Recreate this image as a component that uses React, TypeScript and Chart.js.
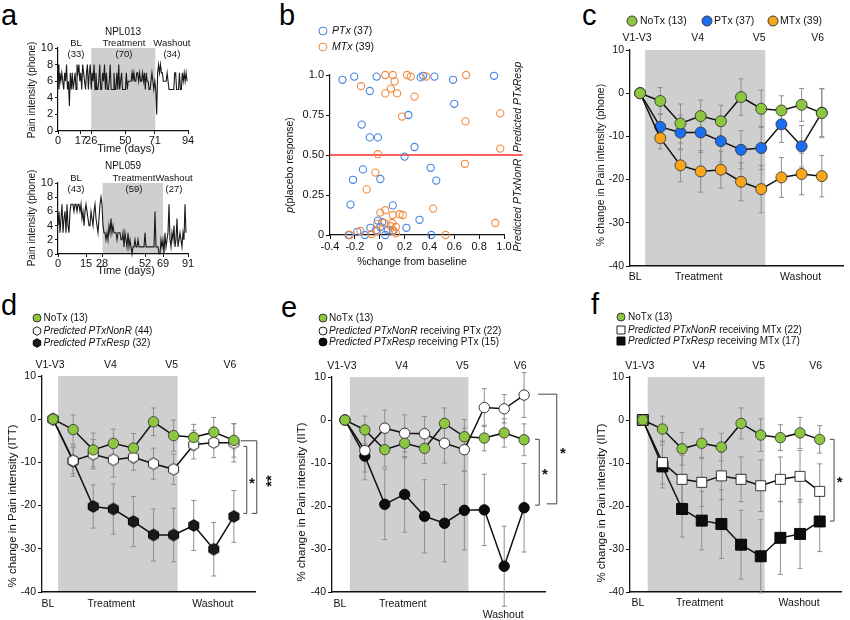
import React, { useEffect, useRef } from 'react';
import { Chart, registerables } from 'chart.js';

Chart.register(...registerables);

const FONT = '"Liberation Sans", Arial, Helvetica, sans-serif';
Chart.defaults.font.family = FONT;
Chart.defaults.color = '#111111';

const INK = '#111111';
const SHADE = '#cfcfcf';
const ERRC = '#8e8e8e';
const GREEN = '#8dc63f';
const BLUE = '#1a6ef0';
const ORANGE = '#f9a61b';
const B_BLUE = '#4482e4';
const B_ORANGE = '#f28a3d';
const RED = '#ff2a2a';

// ---------------- Panel a ----------------
const npl013Values = [
  8, 5, 7, 6, 7, 6, 5, 7, 6, 8, 5, 6, 3, 7, 5, 7, 5, 6, 7, 5, 8, 7, 8, 6, 7, 5, 8, 7, 6, 5, 7, 8, 5, 7,
  8, 5, 7, 6, 8, 5, 7, 5, 5, 6, 8, 5, 5, 7, 6, 8, 5, 7, 5, 5, 6, 8, 5, 5, 5, 7, 5, 5, 7, 5,
  8, 5, 6, 7, 5, 5, 5, 5, 7, 5, 6, 6, 6, 6, 7, 6, 7, 6, 6, 7, 7, 6, 7, 6, 6, 7, 6, 7, 5, 7,
  6, 6, 5, 5, 5, 7, 6, 5, 6, 5,
  2, 7, 8, 7, 8, 7, 7, 6, 6, 6, 6, 7, 6, 5, 5, 5, 5, 5, 5, 7, 7, 5, 5, 5, 7, 5, 5, 7, 6, 7, 6, 7, 6,
];
const npl013TickPos = [0, 24, 35, 71, 102, 137];
const npl013TickLabels = ['0', '17', '26', '50', '71', '94'];
const npl013Treatment = [35, 102.5];
const npl013PhaseNames = ['BL', 'Treatment', 'Washout'];
const npl013PhaseCounts = ['(33)', '(70)', '(34)'];
const npl013PhasePos = [19, 69.5, 120];

const npl059Values = [
  4, 6, 3, 5, 7, 3, 5, 6, 3, 7, 4, 3, 6, 7, 7, 7, 6, 7, 7, 6, 7, 7, 6, 7, 5, 6, 4, 6, 7, 6, 5, 4, 4, 6, 5, 4, 6, 7, 5, 4, 3, 5, 7,
  8, 7, 4, 3, 3, 2, 3, 2, 4, 3, 5, 3, 4, 3, 3, 3, 2, 3, 3, 3, 2, 2, 3, 1, 3, 2, 1, 3, 1, 2,
  1, 0, 1, 1, 2, 1, 1, 2, 1, 1, 1, 1, 1, 1, 3, 1, 1, 1, 1, 1, 1, 1, 1, 1, 6, 1, 1, 1, 0,
  0, 2, 1, 2, 0, 3, 1, 2, 3, 7, 2, 1, 3, 2, 4, 1, 2, 5, 1, 2, 3, 2, 1, 3, 2, 7, 3,
];
const npl059TickPos = [0, 28, 44, 87, 105, 130];
const npl059TickLabels = ['0', '15', '28', '52', '69', '91'];
const npl059Treatment = [44.5, 105];
const npl059PhaseNames = ['BL', 'Treatment', 'Washout'];
const npl059PhaseCounts = ['(43)', '(59)', '(27)'];
const npl059PhasePos = [18, 76, 116];

const painTicks = [0, 2, 4, 6, 8, 10];

// ---------------- Panel b ----------------
const ptxX = [-0.3, -0.205, -0.025, 0.33, 0.35, 0.44, 0.59, 0.92, -0.08, 0.6, -0.145, 0.23, -0.08, -0.015, 0.28, 0.2, -0.135, 0.41, -0.215, 0.005, 0.455, -0.235, 0.105, 0.32, 0.215, -0.075, -0.015, 0.02, -0.18, -0.12, -0.25, 0.045, 0.065, -0.03, 0.415, 0.005, 0.105];
const ptxY = [0.97, 0.99, 0.99, 0.985, 0.995, 0.99, 0.97, 0.995, 0.9, 0.82, 0.69, 0.75, 0.61, 0.61, 0.55, 0.49, 0.41, 0.42, 0.345, 0.35, 0.34, 0.19, 0.185, 0.095, 0.045, 0.045, 0.09, 0.08, 0.02, 0.0, 0.0, 0.0, 0.03, 0.03, 0.0, 0.05, 0.03];
const mtxX = [0.045, 0.105, 0.22, 0.25, 0.375, 0.695, 0.12, -0.15, 0.09, 0.045, 0.14, 0.28, 0.18, 0.69, 0.97, -0.015, 0.97, 0.685, -0.035, -0.105, 0.43, 0.005, 0.045, 0.105, 0.16, 0.185, -0.02, 0.035, 0.09, 0.13, 0.11, 0.13, -0.02, -0.065, -0.155, -0.24, 0.53, 0.93, 0.1];
const mtxY = [1.0, 1.0, 1.0, 0.99, 0.99, 1.0, 0.96, 0.93, 0.915, 0.885, 0.885, 0.865, 0.74, 0.71, 0.76, 0.505, 0.54, 0.445, 0.39, 0.285, 0.165, 0.14, 0.155, 0.125, 0.13, 0.125, 0.07, 0.075, 0.055, 0.05, 0.025, 0.01, 0.025, 0.005, 0.025, 0.0, 0.0, 0.075, 0.075];
const thresholdX = [-0.4, 1.15];
const thresholdY = 0.5;
const bXTicks = [-0.4, -0.2, 0, 0.2, 0.4, 0.6, 0.8, 1.0];
const bXLabels = ['-0.4', '-0.2', '0', '0.2', '0.4', '0.6', '0.8', '1.0'];
const bYTicks = [0, 0.25, 0.5, 0.75, 1.0];
const bYLabels = ['0', '0.25', '0.50', '0.75', '1.0'];

// ---------------- Panels c-f (time courses) ----------------
const visitLabels = ['V1-V3', 'V4', 'V5', 'V6'];
const visitPos = [-0.15, 2.85, 5.9, 8.8];
const phaseLabels = ['BL', 'Treatment', 'Washout'];
const phasePos = [-0.25, 2.9, 7.95];
const treatmentWindow = [0.25, 6.2];
const pctTicks = [-40, -30, -20, -10, 0, 10];
const pctLabels = ['-40', '-30', '-20', '-10', '0', '10'];

const cNoTx = [0, -1.8, -7.0, -5.3, -6.5, -0.9, -3.6, -4.0, -2.7, -4.6];
const cNoTxErr = [0, 3.1, 4.5, 3.7, 3.7, 4.2, 4.3, 3.4, 3.8, 5.7];
const cPTx = [0, -7.8, -9.1, -9.1, -11.1, -13.1, -12.7, -7.2, -12.3, -4.5];
const cPTxErr = [0, 3.0, 4.0, 4.6, 4.8, 4.4, 5.0, 4.2, 4.8, 5.5];
const cMTx = [0, -10.4, -16.7, -18.1, -17.7, -20.5, -22.2, -19.5, -18.7, -19.2];
const cMTxErr = [0, 2.5, 3.8, 4.8, 4.3, 4.4, 5.5, 4.6, 4.8, 4.8];

const dNoTx = [0, -2.4, -7.1, -5.6, -6.7, -0.6, -3.8, -4.2, -3.0, -4.9];
const dNoTxErr = [0, 3.4, 3.9, 3.3, 3.4, 3.2, 3.6, 3.0, 3.4, 3.9];
const dNonR = [0, -9.6, -8.1, -9.4, -8.8, -10.3, -11.6, -5.9, -5.4, -5.5];
const dNonRErr = [0, 3.0, 3.4, 4.0, 3.0, 3.6, 3.5, 3.3, 3.5, 4.4];
const dResp = [0, -9.7, -20.2, -20.8, -23.7, -26.8, -26.8, -24.6, -30.1, -22.5];
const dRespErr = [0, 3.5, 5.0, 5.8, 5.8, 6.0, 6.2, 5.8, 6.2, 6.0];

const eNoTx = [0, -2.3, -6.9, -5.4, -6.6, -0.8, -3.9, -4.2, -3.0, -4.6];
const eNoTxErr = [0, 3.2, 4.0, 3.4, 3.5, 3.6, 4.0, 3.0, 3.3, 3.7];
const eNonR = [0, -7.1, -1.9, -3.1, -3.2, -5.4, -6.9, 2.9, 2.6, 5.8];
const eNonRErr = [0, 5.0, 4.2, 4.3, 4.0, 4.6, 5.0, 4.4, 3.3, 5.2];
const eResp = [0, -8.4, -19.6, -17.3, -22.4, -24.0, -21.0, -20.9, -34.0, -20.4];
const eRespErr = [0, 5.5, 8.2, 8.8, 8.5, 9.0, 9.2, 8.3, 9.3, 10.3];

const fNoTx = [0, -2.1, -6.7, -5.4, -6.3, -0.8, -3.5, -4.1, -3.0, -4.5];
const fNoTxErr = [0, 3.0, 3.8, 3.3, 3.2, 3.6, 3.8, 3.0, 3.6, 3.2];
const fNonR = [0, -9.9, -13.8, -14.5, -13.0, -13.8, -15.3, -13.8, -13.1, -16.6];
const fNonRErr = [0, 5.0, 5.5, 5.6, 5.5, 5.2, 6.0, 5.2, 6.0, 6.4];
const fResp = [0, -10.8, -20.7, -23.4, -24.2, -29.0, -31.7, -27.4, -26.5, -23.6];
const fRespErr = [0, 5.0, 6.5, 6.8, 8.0, 8.0, 8.5, 8.5, 8.0, 7.0];

// ---------------- helpers ----------------
type Part = { t: string; i?: boolean; b?: boolean };
const P = (t: string): Part[] => [{ t }];

function fontStr(size: number, italic?: boolean, bold?: boolean) {
  return `${italic ? 'italic ' : ''}${bold ? 'bold ' : ''}${size}px ${FONT}`;
}

function drawParts(ctx: CanvasRenderingContext2D, parts: Part[], x: number, y: number, size: number, align: string) {
  let total = 0;
  const widths = parts.map((p) => {
    ctx.font = fontStr(size, p.i, p.b);
    const w = ctx.measureText(p.t).width;
    total += w;
    return w;
  });
  let cx = align === 'left' ? x : align === 'right' ? x - total : x - total / 2;
  ctx.textAlign = 'left';
  parts.forEach((p, k) => {
    ctx.font = fontStr(size, p.i, p.b);
    ctx.fillText(p.t, cx, y);
    cx += widths[k];
  });
}

function drawMarker(ctx: CanvasRenderingContext2D, kind: string, x: number, y: number, r: number, fill: string, stroke: string, lw: number) {
  ctx.beginPath();
  if (kind === 'circle') ctx.arc(x, y, r, 0, Math.PI * 2);
  else if (kind === 'square') ctx.rect(x - r, y - r, 2 * r, 2 * r);
  else {
    for (let k = 0; k < 6; k++) {
      const a = -Math.PI / 2 + (k * Math.PI) / 3;
      const px = x + r * Math.cos(a);
      const py = y + r * Math.sin(a);
      if (k === 0) ctx.moveTo(px, py);
      else ctx.lineTo(px, py);
    }
    ctx.closePath();
  }
  ctx.fillStyle = fill;
  ctx.fill();
  ctx.lineWidth = lw;
  ctx.strokeStyle = stroke;
  ctx.stroke();
}

function hexImage(r: number, fill: string, stroke: string) {
  const c = document.createElement('canvas');
  const s = Math.ceil(r * 2 + 3);
  c.width = s;
  c.height = s;
  const ctx = c.getContext('2d') as CanvasRenderingContext2D;
  drawMarker(ctx, 'hex', s / 2, s / 2, r, fill, stroke, 1);
  return c;
}

type Box = { left: number; top: number; width: number; height: number };
type Area = { left: number; top: number; right: number; bottom: number };

function layoutFor(box: Box, area: Area) {
  return {
    padding: { left: 0, top: area.top - box.top, right: box.left + box.width - area.right, bottom: 0 },
    yWidth: area.left - box.left,
    xHeight: box.top + box.height - area.bottom,
  };
}

function axis(o: any) {
  return {
    type: 'linear',
    bounds: 'data',
    min: o.min,
    max: o.max,
    afterFit: o.fit,
    afterBuildTicks: o.ticks
      ? (s: any) => {
          s.ticks = o.ticks.map((v: number) => ({ value: v }));
        }
      : undefined,
    ticks: {
      display: !!o.show,
      autoSkip: false,
      maxRotation: 0,
      minRotation: 0,
      padding: o.pad ?? 2,
      color: INK,
      font: { size: o.fontSize ?? 10.5, family: FONT },
      callback: (v: any, i: number) => (o.labels ? o.labels[i] : v),
    },
    grid: { display: !!o.show, drawOnChartArea: false, drawTicks: !!o.show, tickLength: o.tickLen ?? 4, color: INK, lineWidth: 1 },
    border: { display: true, color: INK, width: o.borderW ?? 1.2 },
  };
}

type Txt = { parts: Part[]; x?: number; xv?: number; y?: number; yv?: number; size?: number; align?: string; rot?: boolean; star?: boolean; bold?: boolean };
type Leg = { kind: string; fill: string; stroke: string; r: number; x: number; y: number; tx: number; parts: Part[]; size?: number };
type Brk = { yTop: number; yBottom: number; xTop: number; xBottom: number; xVert: number };
type Decor = { ox: number; oy: number; shades?: number[][]; errors?: { values: number[]; errs: number[] }[]; texts?: Txt[]; legend?: Leg[]; brackets?: Brk[] };

function decorPlugin(d: Decor) {
  const gx = (chart: any, t: any) => (t.xv !== undefined ? chart.scales.x.getPixelForValue(t.xv) : t.x - d.ox);
  const gy = (chart: any, t: any) => (t.yv !== undefined ? chart.scales.y.getPixelForValue(t.yv) : t.y - d.oy);
  return {
    id: 'decor',
    beforeDraw(chart: any) {
      const { ctx, chartArea: a, scales } = chart;
      ctx.save();
      (d.shades || []).forEach((s) => {
        const x0 = scales.x.getPixelForValue(s[0]);
        const x1 = scales.x.getPixelForValue(s[1]);
        ctx.fillStyle = SHADE;
        ctx.fillRect(x0, a.top, x1 - x0, a.bottom - a.top);
      });
      ctx.restore();
    },
    beforeDatasetsDraw(chart: any) {
      const { ctx, scales } = chart;
      ctx.save();
      ctx.strokeStyle = ERRC;
      ctx.lineWidth = 1;
      (d.errors || []).forEach((eb) => {
        eb.values.forEach((v, i) => {
          const e = eb.errs[i];
          if (!e) return;
          const x = scales.x.getPixelForValue(i);
          const y1 = scales.y.getPixelForValue(v + e);
          const y2 = scales.y.getPixelForValue(v - e);
          ctx.beginPath();
          ctx.moveTo(x, y1);
          ctx.lineTo(x, y2);
          ctx.moveTo(x - 2.5, y1);
          ctx.lineTo(x + 2.5, y1);
          ctx.moveTo(x - 2.5, y2);
          ctx.lineTo(x + 2.5, y2);
          ctx.stroke();
        });
      });
      ctx.restore();
    },
    afterDraw(chart: any) {
      const { ctx, scales } = chart;
      ctx.save();
      ctx.strokeStyle = '#444444';
      ctx.lineWidth = 1;
      (d.brackets || []).forEach((b) => {
        const yT = scales.y.getPixelForValue(b.yTop);
        const yB = scales.y.getPixelForValue(b.yBottom);
        const xT = scales.x.getPixelForValue(b.xTop);
        const xB = scales.x.getPixelForValue(b.xBottom);
        const xV = scales.x.getPixelForValue(b.xVert);
        ctx.beginPath();
        ctx.moveTo(xT, yT);
        ctx.lineTo(xV, yT);
        ctx.lineTo(xV, yB);
        ctx.lineTo(xB, yB);
        ctx.stroke();
      });
      ctx.fillStyle = INK;
      (d.texts || []).forEach((t) => {
        const x = gx(chart, t);
        const y = gy(chart, t);
        const size = t.size ?? 10.5;
        ctx.save();
        ctx.translate(x, y);
        if (t.rot) ctx.rotate(-Math.PI / 2);
        if (t.star) {
          ctx.textBaseline = 'alphabetic';
          drawParts(ctx, t.parts, 0, size * 0.6, size, 'center');
        } else {
          ctx.textBaseline = 'middle';
          drawParts(ctx, t.parts, 0, 0, size, t.align ?? 'center');
        }
        ctx.restore();
      });
      (d.legend || []).forEach((l) => {
        drawMarker(ctx, l.kind, l.x - d.ox, l.y - d.oy, l.r, l.fill, l.stroke, 1);
        ctx.fillStyle = INK;
        ctx.textBaseline = 'middle';
        drawParts(ctx, l.parts, l.tx - d.ox, l.y - d.oy, l.size ?? 10, 'left');
      });
      ctx.restore();
    },
  };
}

function baseOptions(L: any, scales: any) {
  return {
    responsive: false,
    maintainAspectRatio: false,
    animation: false,
    devicePixelRatio: 1,
    events: [],
    layout: { padding: L.padding },
    plugins: { legend: { display: false }, tooltip: { enabled: false }, title: { display: false } },
    scales,
  };
}

// ---------------- Panel a builders ----------------
function painConfig(box: Box, area: Area, values: number[], xMax: number, tickPos: number[], tickLabels: string[], treat: number[], title: string, titleY: number, phaseNames: string[], phaseCounts: string[], phasePos: number[], phaseY: number, xTitleY: number, yTitleY: number) {
  const L = layoutFor(box, area);
  const texts: Txt[] = [
    { parts: P(title), x: 123, y: titleY, size: 10 },
    { parts: P('Time (days)'), x: 126, y: xTitleY, size: 11 },
    { parts: P('Pain intensity (phone)'), x: 32, y: yTitleY, size: 10, rot: true },
  ];
  phaseNames.forEach((n, k) => {
    texts.push({ parts: P(n), xv: phasePos[k], y: phaseY, size: 9.5 });
    texts.push({ parts: P(phaseCounts[k]), xv: phasePos[k], y: phaseY + 11, size: 9.5 });
  });
  return {
    type: 'line',
    data: {
      datasets: [
        {
          data: values.map((v, i) => ({ x: i, y: v })),
          borderColor: '#1a1a1a',
          borderWidth: 1.1,
          pointRadius: 0,
          tension: 0,
          clip: false,
        },
      ],
    },
    options: baseOptions(L, {
      x: axis({ min: 0, max: xMax, ticks: tickPos, labels: tickLabels, show: true, tickLen: 3, pad: 0, fontSize: 11, fit: (s: any) => { s.height = L.xHeight; } }),
      y: axis({ min: 0, max: 10, ticks: painTicks, labels: painTicks.map(String), show: true, tickLen: 3, pad: 2, fontSize: 11, fit: (s: any) => { s.width = L.yWidth; } }),
    }),
    plugins: [decorPlugin({ ox: box.left, oy: box.top, shades: [treat], texts })],
  };
}

const A1_BOX = { left: 0, top: 22, width: 200, height: 135 };
const A1_AREA = { left: 58, top: 48, right: 188, bottom: 131 };
const A2_BOX = { left: 0, top: 157, width: 200, height: 128 };
const A2_AREA = { left: 58, top: 183, right: 188, bottom: 254 };

const buildA1 = () => painConfig(A1_BOX, A1_AREA, npl013Values, 137, npl013TickPos, npl013TickLabels, npl013Treatment, 'NPL013', 32, npl013PhaseNames, npl013PhaseCounts, npl013PhasePos, 43, 149, 90);
const buildA2 = () => painConfig(A2_BOX, A2_AREA, npl059Values, 130, npl059TickPos, npl059TickLabels, npl059Treatment, 'NPL059', 166, npl059PhaseNames, npl059PhaseCounts, npl059PhasePos, 178, 271, 218);

// ---------------- Panel b builder ----------------
const B_BOX = { left: 280, top: 20, width: 270, height: 255 };
const B_AREA = { left: 330, top: 75, right: 504, bottom: 235 };

function buildB() {
  const L = layoutFor(B_BOX, B_AREA);
  const circ = (color: string) => ({
    showLine: false,
    pointStyle: 'circle',
    pointRadius: 3.6,
    pointBorderWidth: 1.1,
    pointBackgroundColor: 'rgba(255,255,255,0)',
    pointBorderColor: color,
    clip: false,
  });
  return {
    type: 'scatter',
    data: {
      datasets: [
        { label: 'MTx (39)', data: mtxX.map((x, i) => ({ x, y: mtxY[i] })), ...circ(B_ORANGE) },
        { label: 'PTx (37)', data: ptxX.map((x, i) => ({ x, y: ptxY[i] })), ...circ(B_BLUE) },
        {
          label: 'threshold',
          data: thresholdX.map((x) => ({ x, y: thresholdY })),
          showLine: true,
          borderColor: RED,
          borderWidth: 1.6,
          pointRadius: 0,
          clip: false,
        },
      ],
    },
    options: baseOptions(L, {
      x: axis({ min: -0.4, max: 1.0, ticks: bXTicks, labels: bXLabels, show: true, tickLen: 4, pad: 1, fontSize: 11, fit: (s: any) => { s.height = L.xHeight; } }),
      y: axis({ min: 0, max: 1.0, ticks: bYTicks, labels: bYLabels, show: true, tickLen: 4, pad: 2, fontSize: 11, fit: (s: any) => { s.width = L.yWidth; } }),
    }),
    plugins: [
      decorPlugin({
        ox: B_BOX.left,
        oy: B_BOX.top,
        texts: [
          { parts: [{ t: 'p', i: true }, { t: '(placebo response)' }], x: 290, y: 165, size: 10.5, rot: true },
          { parts: P('%change from baseline'), x: 412, y: 262, size: 10.5 },
          { parts: [{ t: 'Predicted PTxResp', i: true }], x: 518, y: 107, size: 10.5, rot: true },
          { parts: [{ t: 'Predicted PTxNonR', i: true }], x: 518, y: 205, size: 10.5, rot: true },
        ],
        legend: [
          { kind: 'circle', fill: '#ffffff', stroke: B_BLUE, r: 4, x: 323, y: 31, tx: 332, parts: [{ t: 'PTx', i: true }, { t: ' (37)' }], size: 10.5 },
          { kind: 'circle', fill: '#ffffff', stroke: B_ORANGE, r: 4, x: 323, y: 47, tx: 332, parts: [{ t: 'MTx', i: true }, { t: ' (39)' }], size: 10.5 },
        ],
      }),
    ],
  };
}

// ---------------- Panels c-f builder ----------------
type Series = { values: number[]; errs: number[]; kind: string; fill: string; stroke: string; r: number };

function timecourseConfig(box: Box, area: Area, xMin: number, xMax: number, series: Series[], extra: any) {
  const L = layoutFor(box, area);
  const datasets = series.map((s) => ({
    data: s.values.map((v, i) => ({ x: i, y: v })),
    borderColor: INK,
    borderWidth: 1.5,
    pointStyle: s.kind === 'hex' ? hexImage(s.r, s.fill, s.stroke) : s.kind === 'square' ? 'rect' : 'circle',
    pointRadius: s.kind === 'square' ? s.r * Math.SQRT2 : s.r,
    pointBackgroundColor: s.fill,
    pointBorderColor: s.stroke,
    pointBorderWidth: 0.9,
    tension: 0,
    clip: false,
  }));
  const texts: Txt[] = [];
  visitLabels.forEach((t, k) => texts.push({ parts: P(t), xv: visitPos[k], y: extra.topY, size: 10.5 }));
  phaseLabels.forEach((t, k) => texts.push({ parts: P(t), xv: phasePos[k], y: extra.bottomY + (extra.phaseDy ? extra.phaseDy[k] : 0), size: 10.5 }));
  texts.push({ parts: P(extra.yTitle), x: extra.yTitleX, y: extra.yTitleY, size: extra.yTitleSize, rot: true });
  (extra.stars || []).forEach((s: any) => texts.push({ parts: [{ t: s.t, b: true }], xv: s.xv, yv: s.yv, size: 15, star: true, rot: !!s.rot }));
  return {
    type: 'line',
    data: { datasets },
    options: baseOptions(L, {
      x: axis({ min: xMin, max: xMax, show: false, borderW: 1.5, fit: (s: any) => { s.height = L.xHeight; } }),
      y: axis({ min: -40, max: 10, ticks: pctTicks, labels: pctLabels, show: true, tickLen: 4, pad: 2, borderW: 1.3, fit: (s: any) => { s.width = L.yWidth; } }),
    }),
    plugins: [
      decorPlugin({
        ox: box.left,
        oy: box.top,
        shades: [treatmentWindow],
        errors: series.map((s) => ({ values: s.values, errs: s.errs })),
        texts,
        legend: extra.legend,
        brackets: extra.brackets,
      }),
    ],
  };
}

const C_BOX = { left: 565, top: 5, width: 285, height: 285 };
const C_AREA = { left: 630, top: 50, right: 843, bottom: 266 };
const D_BOX = { left: 0, top: 300, width: 282, height: 320 };
const D_AREA = { left: 42, top: 376, right: 255, bottom: 592 };
const E_BOX = { left: 282, top: 300, width: 290, height: 320 };
const E_AREA = { left: 332, top: 377, right: 545, bottom: 592 };
const F_BOX = { left: 572, top: 300, width: 278, height: 320 };
const F_AREA = { left: 630, top: 377, right: 845, bottom: 592 };

const buildC = () =>
  timecourseConfig(
    C_BOX,
    C_AREA,
    -0.5,
    10.05,
    [
      { values: cNoTx, errs: cNoTxErr, kind: 'circle', fill: GREEN, stroke: '#3a3a3a', r: 5.5 },
      { values: cMTx, errs: cMTxErr, kind: 'circle', fill: ORANGE, stroke: '#3a3a3a', r: 5.5 },
      { values: cPTx, errs: cPTxErr, kind: 'circle', fill: BLUE, stroke: '#3a3a3a', r: 5.5 },
    ],
    {
      topY: 38.5,
      bottomY: 277,
      yTitle: '% change in Pain intensity (phone)',
      yTitleX: 601,
      yTitleY: 165,
      yTitleSize: 10.5,
      legend: [
        { kind: 'circle', fill: GREEN, stroke: '#3a3a3a', r: 5, x: 632, y: 21, tx: 640, parts: P('NoTx (13)'), size: 10.5 },
        { kind: 'circle', fill: BLUE, stroke: '#3a3a3a', r: 5, x: 707, y: 21, tx: 714, parts: P('PTx (37)'), size: 10.5 },
        { kind: 'circle', fill: ORANGE, stroke: '#3a3a3a', r: 5, x: 773, y: 21, tx: 780, parts: P('MTx (39)'), size: 10.5 },
      ],
    },
  );

const buildD = () =>
  timecourseConfig(
    D_BOX,
    D_AREA,
    -0.55,
    10.05,
    [
      { values: dNoTx, errs: dNoTxErr, kind: 'circle', fill: GREEN, stroke: '#3a3a3a', r: 5.2 },
      { values: dNonR, errs: dNonRErr, kind: 'hex', fill: '#ffffff', stroke: '#222222', r: 5.8 },
      { values: dResp, errs: dRespErr, kind: 'hex', fill: '#1a1a1a', stroke: '#000000', r: 5.8 },
    ],
    {
      topY: 365,
      bottomY: 604,
      yTitle: '% change in Pain intensity (ITT)',
      yTitleX: 13,
      yTitleY: 506,
      yTitleSize: 11.5,
      legend: [
        { kind: 'circle', fill: GREEN, stroke: '#3a3a3a', r: 4, x: 37, y: 318, tx: 43.5, parts: P('NoTx (13)') },
        { kind: 'hex', fill: '#ffffff', stroke: '#222222', r: 4.3, x: 37, y: 331, tx: 43.5, parts: [{ t: 'Predicted PTxNonR', i: true }, { t: ' (44)' }] },
        { kind: 'hex', fill: '#1a1a1a', stroke: '#000000', r: 4.3, x: 37, y: 343, tx: 43.5, parts: [{ t: 'Predicted PTxResp', i: true }, { t: ' (32)' }] },
      ],
      brackets: [
        { yTop: -6.3, yBottom: -21.8, xTop: 9.47, xBottom: 9.47, xVert: 9.64 },
        { yTop: -5.0, yBottom: -21.8, xTop: 9.34, xBottom: 9.89, xVert: 10.14 },
      ],
      stars: [
        { t: '*', xv: 9.9, yv: -13.8 },
        { t: '**', xv: 10.65, yv: -14.3, rot: true },
      ],
    },
  );

const buildE = () =>
  timecourseConfig(
    E_BOX,
    E_AREA,
    -0.65,
    10.05,
    [
      { values: eNoTx, errs: eNoTxErr, kind: 'circle', fill: GREEN, stroke: '#3a3a3a', r: 5.2 },
      { values: eNonR, errs: eNonRErr, kind: 'circle', fill: '#ffffff', stroke: '#222222', r: 5.2 },
      { values: eResp, errs: eRespErr, kind: 'circle', fill: '#0d0d0d', stroke: '#000000', r: 5.2 },
    ],
    {
      topY: 366,
      bottomY: 604,
      phaseDy: [0, 0, 11],
      yTitle: '% change in Pain intensity (IIT)',
      yTitleX: 302,
      yTitleY: 502,
      yTitleSize: 11.5,
      legend: [
        { kind: 'circle', fill: GREEN, stroke: '#3a3a3a', r: 4, x: 323, y: 318, tx: 329, parts: P('NoTx (13)') },
        { kind: 'circle', fill: '#ffffff', stroke: '#222222', r: 4, x: 323, y: 331, tx: 329, parts: [{ t: 'Predicted PTxNonR', i: true }, { t: ' receiving PTx (22)' }] },
        { kind: 'circle', fill: '#0d0d0d', stroke: '#000000', r: 4, x: 323, y: 342, tx: 329, parts: [{ t: 'Predicted PTxResp', i: true }, { t: ' receiving PTx (15)' }] },
      ],
      brackets: [
        { yTop: -4.5, yBottom: -19.8, xTop: 9.55, xBottom: 9.55, xVert: 9.76 },
        { yTop: 6.0, yBottom: -19.5, xTop: 9.71, xBottom: 10.14, xVert: 10.64 },
      ],
      stars: [
        { t: '*', xv: 10.05, yv: -11.6 },
        { t: '*', xv: 10.95, yv: -6.7 },
      ],
    },
  );

const buildF = () =>
  timecourseConfig(
    F_BOX,
    F_AREA,
    -0.65,
    10.1,
    [
      { values: fNoTx, errs: fNoTxErr, kind: 'circle', fill: GREEN, stroke: '#3a3a3a', r: 5.2 },
      { values: fNonR, errs: fNonRErr, kind: 'square', fill: '#ffffff', stroke: '#222222', r: 5 },
      { values: fResp, errs: fRespErr, kind: 'square', fill: '#0d0d0d', stroke: '#000000', r: 5.5 },
    ],
    {
      topY: 366,
      bottomY: 603,
      yTitle: '% change in Pain intensity (IIT)',
      yTitleX: 602,
      yTitleY: 503,
      yTitleSize: 11.5,
      legend: [
        { kind: 'circle', fill: GREEN, stroke: '#3a3a3a', r: 4, x: 621, y: 317, tx: 628, parts: P('NoTx (13)') },
        { kind: 'square', fill: '#ffffff', stroke: '#222222', r: 4, x: 621, y: 330, tx: 628, parts: [{ t: 'Predicted PTxNonR', i: true }, { t: ' receiving MTx (22)' }] },
        { kind: 'square', fill: '#0d0d0d', stroke: '#000000', r: 4, x: 621, y: 341, tx: 628, parts: [{ t: 'Predicted PTxResp', i: true }, { t: ' receiving MTx (17)' }] },
      ],
      brackets: [{ yTop: -4.5, yBottom: -23.5, xTop: 9.52, xBottom: 9.52, xVert: 9.73 }],
      stars: [{ t: '*', xv: 10.02, yv: -13.5 }],
    },
  );

// ---------------- React ----------------
function ChartCanvas({ box, build }: { box: Box; build: () => any }) {
  const ref = useRef<HTMLCanvasElement>(null);
  useEffect(() => {
    const chart = new Chart(ref.current as HTMLCanvasElement, build());
    return () => chart.destroy();
  }, []);
  return (
    <canvas
      ref={ref}
      width={box.width}
      height={box.height}
      style={{ position: 'absolute', left: box.left, top: box.top, width: box.width, height: box.height }}
    />
  );
}

const panelLetters = [
  { t: 'a', left: 1, top: 1 },
  { t: 'b', left: 279, top: 1 },
  { t: 'c', left: 582, top: 1 },
  { t: 'd', left: 1, top: 291 },
  { t: 'e', left: 281, top: 293 },
  { t: 'f', left: 591, top: 290 },
];

export default function App() {
  return (
    <div style={{ position: 'absolute', left: 0, top: 0, width: 850, height: 620, background: '#ffffff', overflow: 'hidden', fontFamily: FONT }}>
      {panelLetters.map((l) => (
        <span key={l.t} style={{ position: 'absolute', left: l.left, top: l.top, fontSize: 29, lineHeight: '28px', color: '#000' }}>
          {l.t}
        </span>
      ))}
      <ChartCanvas box={A1_BOX} build={buildA1} />
      <ChartCanvas box={A2_BOX} build={buildA2} />
      <ChartCanvas box={B_BOX} build={buildB} />
      <ChartCanvas box={C_BOX} build={buildC} />
      <ChartCanvas box={D_BOX} build={buildD} />
      <ChartCanvas box={E_BOX} build={buildE} />
      <ChartCanvas box={F_BOX} build={buildF} />
    </div>
  );
}
